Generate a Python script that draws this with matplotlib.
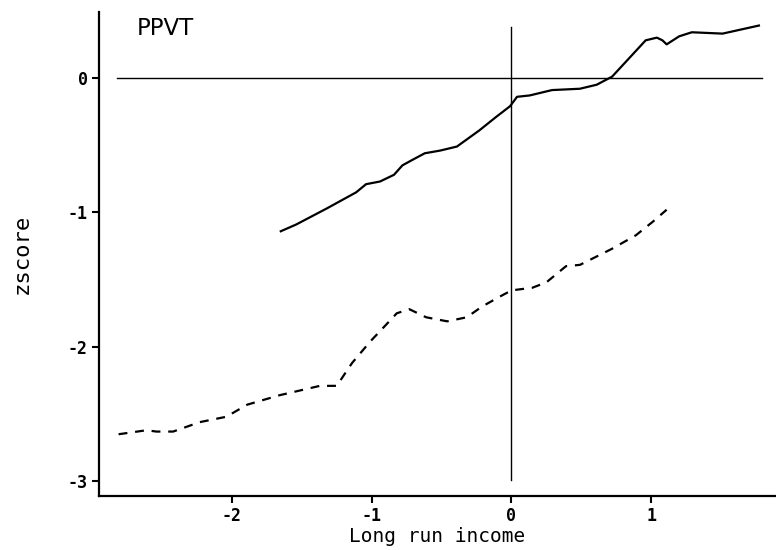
"""PPVT z-score against long run income."""

import matplotlib
matplotlib.use('Agg')
import matplotlib.pyplot as plt

plt.rcParams['axes.unicode_minus'] = False

# Solid curve
solid_x = [-1.65, -1.54, -1.32, -1.11, -1.04, -0.94, -0.84, -0.78, -0.71,
           -0.62, -0.51, -0.39, -0.23, -0.11, -0.01, 0.04, 0.13, 0.29, 0.49,
           0.61, 0.72, 0.96, 1.04, 1.08, 1.11, 1.20, 1.29, 1.51, 1.77]
solid_y = [-1.14, -1.09, -0.97, -0.85, -0.79, -0.77, -0.72, -0.65, -0.61,
           -0.56, -0.54, -0.51, -0.39, -0.29, -0.21, -0.14, -0.13, -0.09,
           -0.08, -0.05, 0.01, 0.28, 0.30, 0.28, 0.25, 0.31, 0.34, 0.33, 0.39]

# Dashed curve
dash_x = [-2.81, -2.61, -2.54, -2.42, -2.23, -2.04, -1.89, -1.66, -1.37,
          -1.25, -1.14, -1.01, -0.91, -0.82, -0.73, -0.61, -0.46, -0.32,
          -0.21, -0.09, 0.00, 0.15, 0.25, 0.39, 0.49, 0.72, 0.89, 1.01, 1.11]
dash_y = [-2.65, -2.62, -2.63, -2.63, -2.56, -2.52, -2.43, -2.36, -2.29,
          -2.29, -2.12, -1.96, -1.85, -1.75, -1.72, -1.78, -1.81, -1.78,
          -1.70, -1.63, -1.58, -1.56, -1.52, -1.40, -1.39, -1.27, -1.17,
          -1.07, -0.98]

x_ticks = [-2, -1, 0, 1]
y_ticks = [-3, -2, -1, 0]

fig = plt.figure(figsize=(7.76, 5.5), dpi=100)
ax = fig.add_axes([0.1276, 0.098, 0.872, 0.88])

# Reference lines through zero
ax.plot([-2.82, 1.79], [0, 0], color='k', lw=1.0)
ax.plot([0, 0], [-2.99, 0.38], color='k', lw=1.0)

ax.plot(solid_x, solid_y, color='k', lw=1.6)
ax.plot(dash_x, dash_y, color='k', lw=1.6, ls=(0, (4, 3.5)))

ax.set_xlim(-2.95, 1.89)
ax.set_ylim(-3.11, 0.49)

ax.spines['right'].set_visible(False)
ax.spines['top'].set_visible(False)
ax.spines['left'].set_linewidth(1.6)
ax.spines['bottom'].set_linewidth(1.6)

ax.set_xticks(x_ticks)
ax.set_yticks(y_ticks)
ax.set_xticklabels([str(t) for t in x_ticks], family='DejaVu Sans Mono',
                   fontsize=12, fontweight='bold')
ax.set_yticklabels([str(t) for t in y_ticks], family='DejaVu Sans Mono',
                   fontsize=12, fontweight='bold')
ax.tick_params(direction='out', length=5, width=1.5, pad=3)

ax.set_xlabel('Long run income', family='DejaVu Sans Mono', fontsize=14,
              labelpad=1)
ax.set_ylabel('zscore', family='DejaVu Sans Mono', fontsize=16, labelpad=26)

ax.text(0.056, 0.9525, 'PPVT', transform=ax.transAxes, fontsize=16.5,
        family='DejaVu Sans', va='baseline', ha='left')

fig.savefig('out.png', dpi=100)
